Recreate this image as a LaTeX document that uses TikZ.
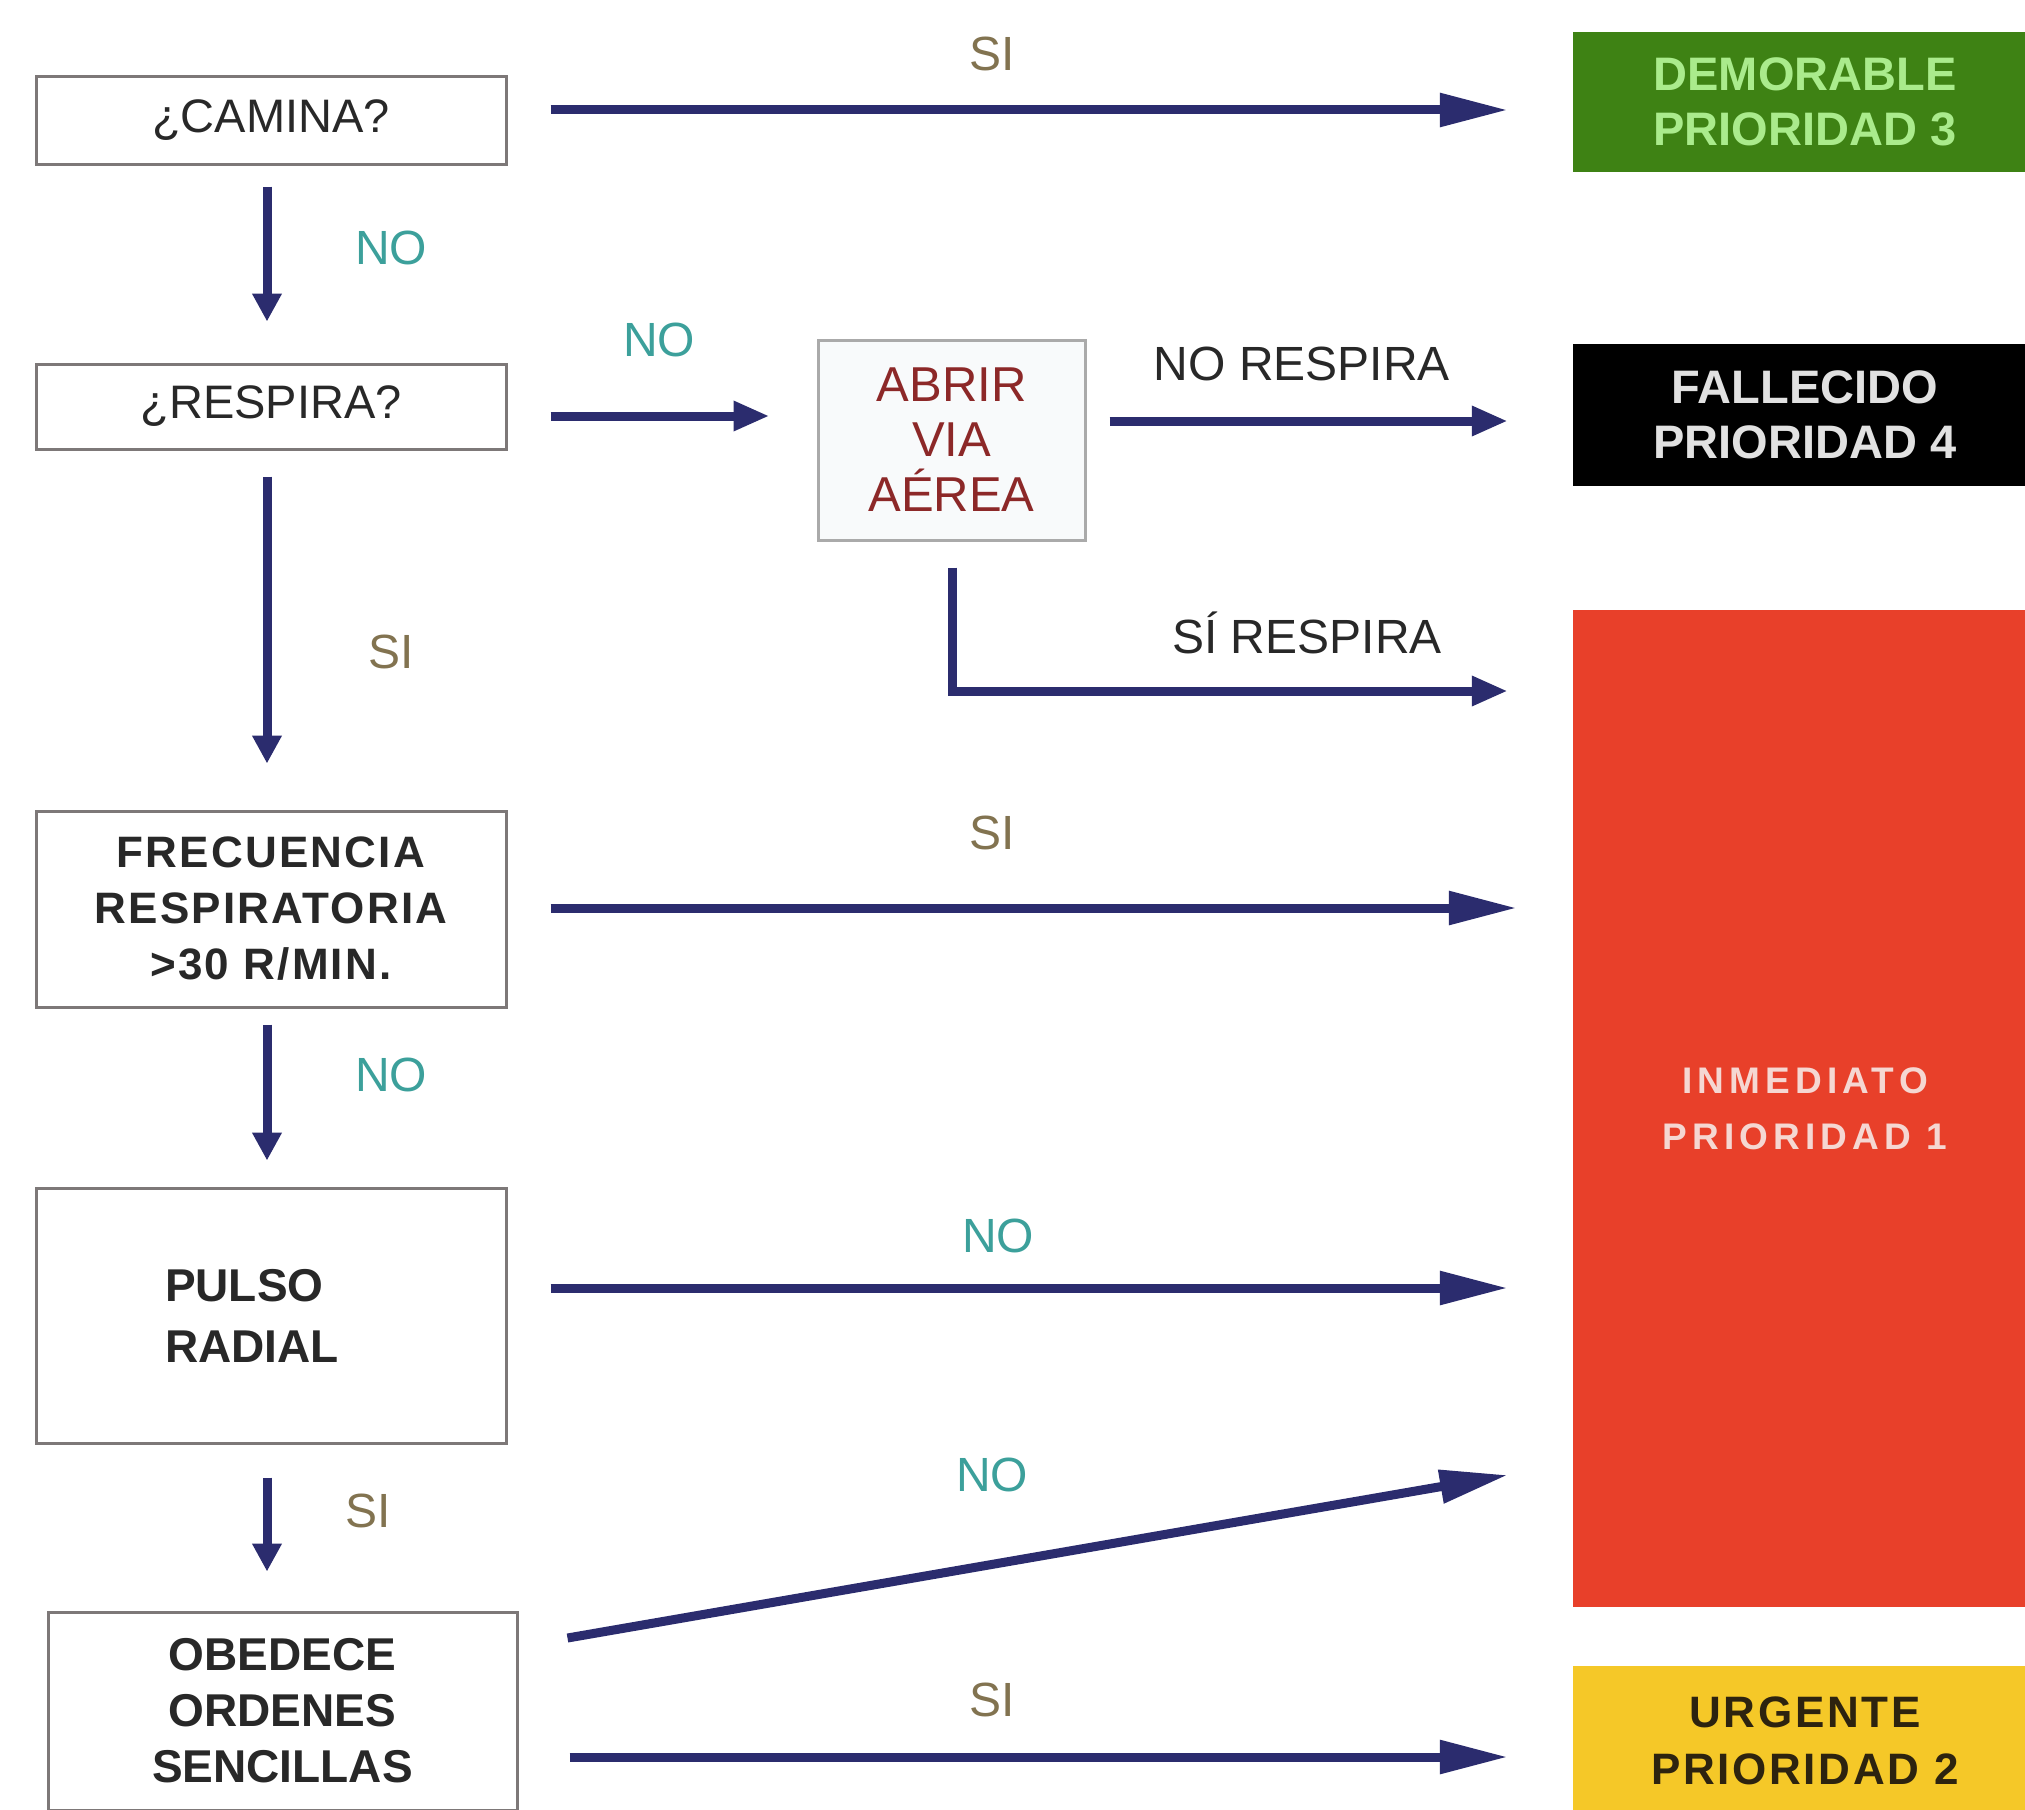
\documentclass[tikz,border=0pt]{standalone}
\usepackage{fontspec}
\setmainfont{Liberation Sans}
\usetikzlibrary{arrows.meta,calc}
\definecolor{navy}{RGB}{43,44,110}
\definecolor{noteal}{RGB}{60,160,155}
\definecolor{sitan}{RGB}{130,115,80}
\definecolor{boxgray}{RGB}{125,120,120}
\definecolor{lightgray}{RGB}{170,170,170}
\definecolor{qtext}{RGB}{40,40,40}
\definecolor{demgreen}{RGB}{62,130,20}
\definecolor{demtext}{RGB}{170,235,140}
\definecolor{deadtext}{RGB}{225,225,225}
\definecolor{inmred}{RGB}{232,64,42}
\definecolor{inmtext}{RGB}{245,215,210}
\definecolor{urgyellow}{RGB}{245,200,40}
\definecolor{urgtext}{RGB}{45,35,15}
\definecolor{abrirtext}{RGB}{140,40,40}
\begin{document}
\begin{tikzpicture}[x=1pt,y=-1pt,
  qbox/.style={draw=boxgray, line width=3pt, fill=white, minimum width=470pt, inner sep=0pt, align=center, text=qtext, font=\fontsize{47}{56}\selectfont},
  obox/.style={draw=none, minimum width=464pt, inner sep=0pt, align=center, font=\bfseries\fontsize{47}{55}\selectfont},
  lbl/.style={inner sep=0pt, font=\fontsize{48}{50}\selectfont},
  arr/.style={draw=navy, line width=9pt, -{Triangle[length=68pt,width=32pt]}},
  sarr/.style={draw=navy, line width=9pt, -{Triangle[length=36pt,width=28pt]}},
  darr/.style={draw=navy, line width=9pt, -{Triangle[length=28pt,width=28pt]}}
]
\useasboundingbox (0,0) rectangle (2025,1809);
\clip (0,0) rectangle (2025,1809);
\fill[white] (0,0) rectangle (2025,1809);

% question boxes
\node[qbox, minimum height=87pt] (camina) at (271,120.5) {¿CAMINA?};
\node[qbox, minimum height=85pt] (respira) at (271,406.5) {¿RESPIRA?};
\node[qbox, minimum height=196pt, font=\bfseries\fontsize{44}{56}\selectfont\addfontfeatures{LetterSpace=5}] (frec) at (271,909) {FRECUENCIA\\RESPIRATORIA\\>30 R/MIN.};
\node[qbox, minimum height=255pt, font=\bfseries\fontsize{46}{61}\selectfont, text width=212pt, align=left, inner xsep=129pt] (pulso) at (271,1315.5) {PULSO\\RADIAL};
\node[qbox, minimum height=198pt, minimum width=469pt, font=\bfseries\fontsize{46}{56}\selectfont] (obed) at (282.5,1711) {OBEDECE\\ORDENES\\SENCILLAS};
\node[draw=lightgray, line width=3pt, fill={rgb,255:red,248;green,250;blue,251}, minimum width=267pt, minimum height=200pt, inner sep=0pt, align=center, text=abrirtext, font=\fontsize{49}{55}\selectfont] (abrir) at (951.5,440) {ABRIR\\VIA\\AÉREA};

% outcome boxes
\node[obox, fill=demgreen, text=demtext, minimum height=140pt] (green) at (1805,102) {DEMORABLE\\PRIORIDAD 3};
\node[obox, fill=black, text=deadtext, minimum height=142pt] (black) at (1805,415) {FALLECIDO\\PRIORIDAD 4};
\node[obox, fill=inmred, text=inmtext, minimum height=997pt, font=\bfseries\fontsize{37}{56}\selectfont\addfontfeatures{LetterSpace=14}] (red) at (1805,1108.5) {INMEDIATO\\PRIORIDAD 1};
\node[obox, fill=urgyellow, text=urgtext, minimum height=149pt, font=\bfseries\fontsize{44}{57}\selectfont\addfontfeatures{LetterSpace=6}] (yellow) at (1805,1740.5) {URGENTE\\PRIORIDAD 2};

% connectors
\draw[arr] ($(camina.east)+(43,-10.5)$) -- ($(green.west)+(-65,8)$);
\draw[darr] ($(camina.south)+(-4,21)$) -- ($(respira.north)+(-4,-41)$);
\draw[sarr] ($(respira.east)+(43,9.5)$) -- ($(abrir.west)+(-47,-24)$);
\draw[sarr] ($(abrir.east)+(23,-19)$) -- ($(black.west)+(-65,6)$);
\draw[sarr] ($(abrir.south)+(0.5,26)$) |- ($(red.west)+(-65,-417.5)$);
\draw[darr] ($(respira.south)+(-4,26)$) -- ($(frec.north)+(-4,-46)$);
\draw[arr] ($(frec.east)+(43,-1)$) -- ($(red.west)+(-56,-200.5)$);
\draw[darr] ($(frec.south)+(-4,16)$) -- ($(pulso.north)+(-4,-26)$);
\draw[arr] ($(pulso.east)+(43,-27.5)$) -- ($(red.west)+(-65,179.5)$);
\draw[darr] ($(pulso.south)+(-4,33)$) -- ($(obed.north)+(-15.5,-39)$);
\draw[arr] ($(obed.east)+(49,-73)$) -- ($(red.west)+(-65,366.5)$);
\draw[arr] ($(obed.east)+(51,46)$) -- ($(yellow.west)+(-65,16.5)$);

% labels
\node[lbl, text=sitan] (l1) at (992,54) {SI};
\node[lbl, text=noteal] (l2) at (391,248) {NO};
\node[lbl, text=noteal] (l3) at (659,340) {NO};
\node[lbl, text=qtext] (l4) at (1302,364) {NO RESPIRA};
\node[lbl, text=qtext] (l5) at (1307,633) {SÍ RESPIRA};
\node[lbl, text=sitan] (l6) at (391,652) {SI};
\node[lbl, text=sitan] (l7) at (992,833) {SI};
\node[lbl, text=noteal] (l8) at (391,1075) {NO};
\node[lbl, text=noteal] (l9) at (998,1236) {NO};
\node[lbl, text=sitan] (l10) at (368,1511) {SI};
\node[lbl, text=noteal] (l11) at (992,1475) {NO};
\node[lbl, text=sitan] (l12) at (992,1700) {SI};
\end{tikzpicture}
\end{document}
